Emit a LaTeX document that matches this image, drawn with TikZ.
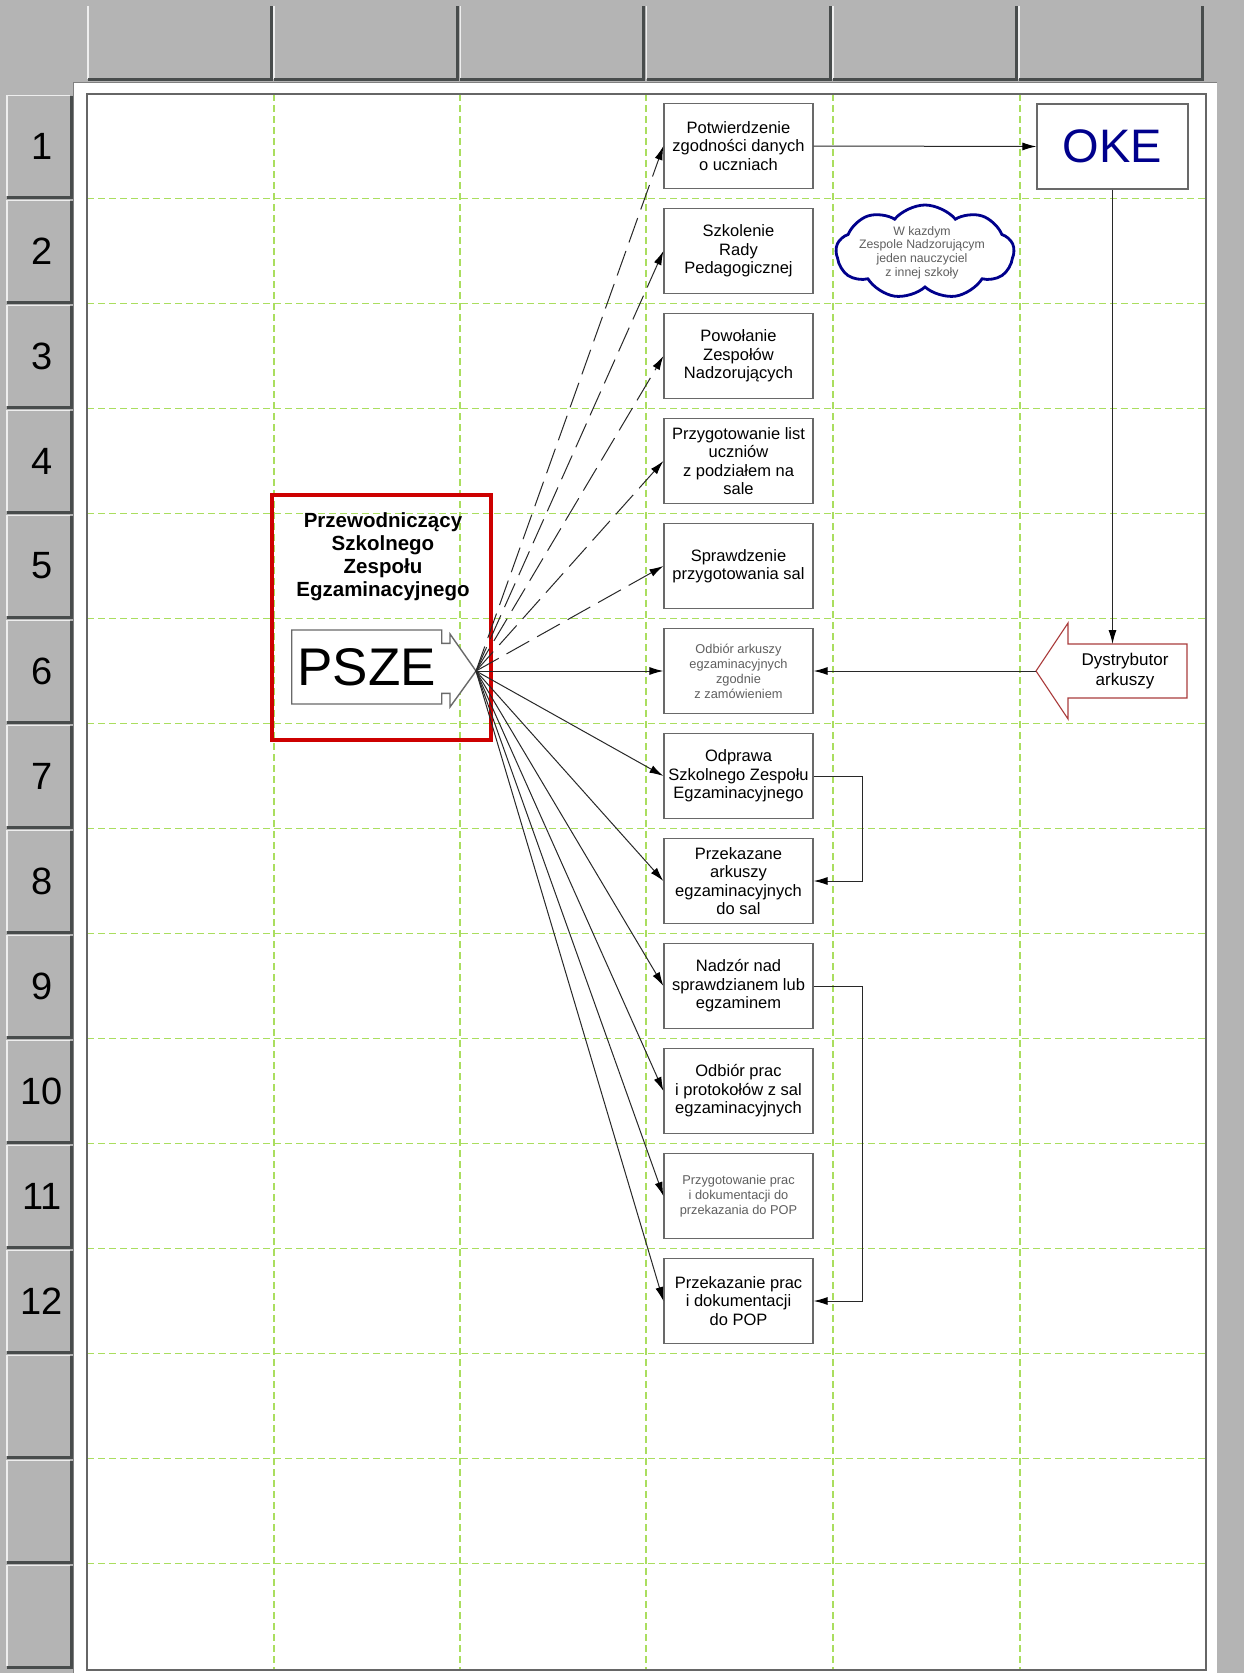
\documentclass[tikz,border=0pt]{standalone}
\usepackage{fontspec}
\setmainfont{Liberation Sans}
\usetikzlibrary{arrows.meta,shapes.symbols}
\definecolor{bgc}{RGB}{180,180,180}
\definecolor{btnhi}{RGB}{238,238,238}
\definecolor{btnsh}{RGB}{72,76,76}
\definecolor{gridc}{RGB}{170,222,95}
\definecolor{navyc}{RGB}{0,0,140}
\definecolor{redc}{RGB}{205,0,0}
\definecolor{dysc}{RGB}{170,60,60}
\definecolor{boxc}{RGB}{105,105,105}
\definecolor{linec}{RGB}{40,40,40}
\definecolor{txtg}{RGB}{95,95,95}
\begin{document}
\begin{tikzpicture}[x=1pt,y=-1pt,
  gridl/.style={gridc, line width=1.3pt, dash pattern=on 7pt off 4pt},
  pbox/.style={draw=boxc, fill=white, line width=1.2pt, minimum width=149pt, minimum height=85pt, inner sep=0pt, align=center, font=\fontsize{16.5pt}{18.5pt}\selectfont},
  pboxg/.style={pbox, text=txtg, font=\fontsize{12.8pt}{15pt}\selectfont},
  conn/.style={linec, line width=1pt, -{Latex[length=14pt,width=8pt,black]}},
  dconn/.style={conn, dash pattern=on 26pt off 9pt},
  rowlab/.style={font=\fontsize{38pt}{40pt}\selectfont, text=black},
]
\useasboundingbox (0,0) rectangle (1244,1673);
\fill[bgc] (0,0) rectangle (1244,1673);
% white sheet
\fill[white] (73,82) rectangle (1217,1673);
\draw[gray, line width=0.8pt] (73,1673) -- (73,82) -- (1217,82);
% header buttons
\foreach \i in {0,...,5}{
  \pgfmathsetmacro\xa{88+186.2*\i}
  \pgfmathsetmacro\xb{\xa+182}
  \fill[bgc] (\xa,6) rectangle (\xb,79);
  \draw[btnhi, line width=1.5pt] (\xa,79) -- (\xa,6);
  \draw[btnsh, line width=3pt] (\xa,79.5) -- (\xb+1.5,79.5) -- (\xb+1.5,6);
}
% row buttons
\foreach \i in {1,...,15}{
  \pgfmathsetmacro\ya{93.5+105*(\i-1)+2}
  \pgfmathsetmacro\yb{\ya+100}
  \fill[bgc] (7,\ya) rectangle (70,\yb);
  \draw[btnhi, line width=1.8pt] (7,\yb) -- (7,\ya) -- (70,\ya);
  \draw[btnsh, line width=3pt] (7,\yb+1.5) -- (71.5,\yb+1.5) -- (71.5,\ya);
}
\foreach \i in {1,...,12}{
  \node[rowlab] (r\i) at (42,146+105*\i-105) {\i};
}
% grid
\foreach \x in {274,460,646,833,1020}{
  \draw[gridl] (\x,94) -- (\x,1670);
}
\foreach \k in {1,...,14}{
  \draw[gridl] (87,93.5+105*\k) -- (1206,93.5+105*\k);
}
% inner frame
\draw[gray!80!black, line width=1.6pt] (87,94) rectangle (1206,1670);

% PSZE block
\node[draw=redc, line width=4pt, minimum width=219pt, minimum height=245pt, inner sep=0pt] (redbox) at (381.5,617.5) {};
\node[font=\bfseries\fontsize{20.5pt}{23pt}\selectfont, align=center] (title) at (383,557) {Przewodniczący\\Szkolnego\\Zespołu\\Egzaminacyjnego};
\draw[boxc, fill=white, line width=1.4pt] (291.7,630) -- (441.7,630) -- (441.7,643.3) -- (450,643.3) -- (450,634) -- (476,671) -- (450,707) -- (450,693.3) -- (441.7,693.3) -- (441.7,704) -- (291.7,704) -- cycle;
\node[font=\fontsize{53pt}{55pt}\selectfont] (psze) at (366.7,667) {PSZE};
\coordinate (tip) at (476,671);

% process boxes
\node[pbox] (b1) at (738.5,146) {Potwierdzenie\\zgodności danych\\o uczniach};
\node[pbox] (b2) at (738.5,251) {Szkolenie\\Rady\\Pedagogicznej};
\node[pbox] (b3) at (738.5,356) {Powołanie\\Zespołów\\Nadzorujących};
\node[pbox] (b4) at (738.5,461) {Przygotowanie list\\uczniów\\z podziałem na\\sale};
\node[pbox] (b5) at (738.5,566) {Sprawdzenie\\przygotowania sal};
\node[pboxg] (b6) at (738.5,671) {Odbiór arkuszy\\egzaminacyjnych\\zgodnie\\z zamówieniem};
\node[pbox] (b7) at (738.5,776) {Odprawa\\Szkolnego Zespołu\\Egzaminacyjnego};
\node[pbox] (b8) at (738.5,881) {Przekazane\\arkuszy\\egzaminacyjnych\\do sal};
\node[pbox] (b9) at (738.5,986) {Nadzór nad\\sprawdzianem lub\\egzaminem};
\node[pbox] (b10) at (738.5,1091) {Odbiór prac\\i protokołów z sal\\egzaminacyjnych};
\node[pboxg] (b11) at (738.5,1196) {Przygotowanie prac\\i dokumentacji do\\przekazania do POP};
\node[pbox] (b12) at (738.5,1301) {Przekazanie prac\\i dokumentacji\\do POP};

% OKE
\node[pbox, minimum width=151pt, text=navyc, font=\fontsize{47pt}{50pt}\selectfont] (oke) at (1112.5,146.5) {OKE};

% cloud
\node[cloud, cloud puffs=9, cloud puff arc=100, aspect=1.85, draw=navyc, fill=white, line width=2.8pt, minimum width=178pt, minimum height=94pt, inner sep=0pt] (cloud) at (925,252) {};
\node[text=txtg, font=\fontsize{12.3pt}{13.6pt}\selectfont, align=center] (cloudtxt) at (922,252.5) {W kazdym\\Zespole Nadzorującym\\jeden nauczyciel\\z innej szkoły};

% Dystrybutor arrow
\draw[dysc, fill=white, line width=1.1pt] (1036,671) -- (1068,623) -- (1068,644) -- (1187,644) -- (1187,698) -- (1068,698) -- (1068,719) -- cycle;
\node[font=\fontsize{17pt}{19.5pt}\selectfont, align=center] (dys) at (1125,671) {Dystrybutor\\arkuszy};
\coordinate (dtip) at (1036,671);
\coordinate (dtop) at (1112.5,644);

% connectors
\foreach \b in {b1,b2,b3,b4,b5}{
  \draw[dconn] (tip) -- (\b.west);
}
\foreach \b in {b6,b7,b8,b9,b10,b11,b12}{
  \draw[conn] (tip) -- (\b.west);
}
\draw[conn] (b1.east) -- (oke.west);
\draw[conn] (oke.south) -- (dtop);
\draw[conn] (dtip) -- (b6.east);
\draw[conn] (b7.east) -- ++(49,0) |- (b8.east);
\draw[conn] (b9.east) -- ++(49,0) |- (b12.east);
\end{tikzpicture}
\end{document}
